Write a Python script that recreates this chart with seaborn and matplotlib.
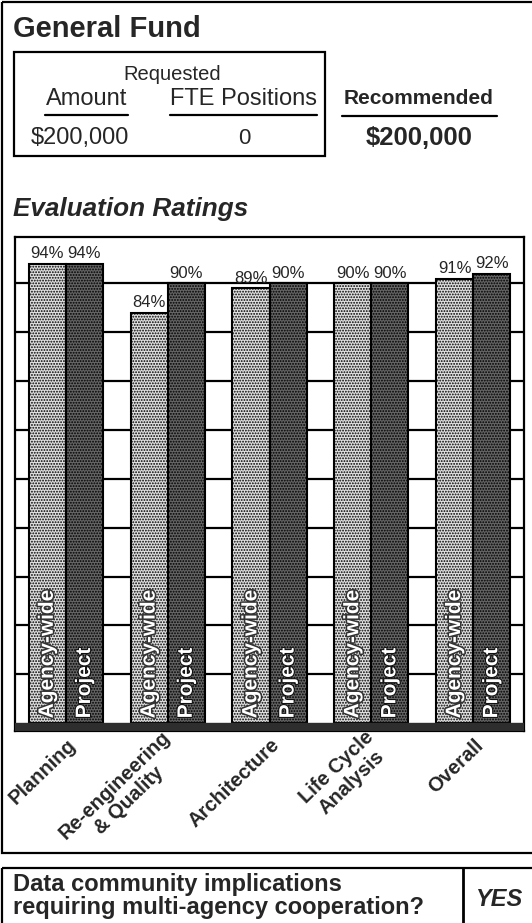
import matplotlib
matplotlib.use("Agg")
import matplotlib.pyplot as plt
import matplotlib.patheffects as pe
from matplotlib.patches import Rectangle
from matplotlib.lines import Line2D
from matplotlib.transforms import ScaledTranslation
import pandas as pd
import seaborn as sns

# ---- data -------------------------------------------------------------
categories = ["Planning", "Re-engineering\n& Quality", "Architecture",
              "Life Cycle\nAnalysis", "Overall"]
series_names = ["Agency-wide", "Project"]
agency_wide = [94, 84, 89, 90, 91]
project = [94, 90, 90, 90, 92]
grid_levels = [10, 20, 30, 40, 50, 60, 70, 80, 90]

requested_amount = "$200,000"
requested_fte = "0"
recommended_amount = "$200,000"
cooperation_answer = "YES"

df = pd.DataFrame({
    "Category": categories * 2,
    "Rating": agency_wide + project,
    "Series": [series_names[0]] * len(categories) + [series_names[1]] * len(categories),
})

# ---- style ------------------------------------------------------------
sns.set_style("white")
plt.rcParams["font.family"] = ["Liberation Sans", "DejaVu Sans"]
plt.rcParams["hatch.linewidth"] = 0.9

W, H = 532, 923
fig = plt.figure(figsize=(W / 100, H / 100), dpi=100)

# page layer in pixel units (y downwards) for the frames and header text
page = fig.add_axes([0, 0, 1, 1])
page.set_xlim(0, W)
page.set_ylim(H, 0)
page.axis("off")

def box(x0, y0, x1, y1, lw=1.6):
    page.add_patch(Rectangle((x0, y0), x1 - x0, y1 - y0, fill=False,
                             edgecolor="black", linewidth=lw))

def hline(x0, x1, y, lw=1.6):
    page.add_line(Line2D([x0, x1], [y, y], color="black", linewidth=lw))

# outer frame (right edge runs past the page)
box(2, 2, W + 10, 853)
# question box at the bottom
box(2, 868, W + 10, H + 10)
page.add_line(Line2D([463, 463], [868, H + 10], color="black", linewidth=2))

page.text(13, 29, "General Fund", fontsize=21, fontweight="bold",
          ha="left", va="center")

box(14, 52, 325, 156)
page.text(172, 74, "Requested", fontsize=14.5, ha="center", va="center")
page.text(87, 99, "Amount", fontsize=17, ha="center", va="center")
page.text(243, 99, "FTE Positions", fontsize=17, ha="center", va="center")
hline(45, 128, 115)
hline(170, 317, 115)
page.text(80, 138, requested_amount, fontsize=17, ha="center", va="center")
page.text(244, 139, requested_fte, fontsize=16, ha="center", va="center")

page.text(419, 99, "Recommended", fontsize=15, fontweight="bold",
          ha="center", va="center")
hline(342, 497, 116)
page.text(419, 138, recommended_amount, fontsize=18.5, fontweight="bold",
          ha="center", va="center")

page.text(13, 209, "Evaluation Ratings", fontsize=18.8, fontweight="bold",
          fontstyle="italic", ha="left", va="center")

page.text(13, 896, "Data community implications\nrequiring multi-agency cooperation?",
          fontsize=17, fontweight="bold", ha="left", va="center", linespacing=0.98)
page.text(499, 899, cooperation_answer, fontsize=17, fontweight="bold",
          fontstyle="italic", ha="center", va="center")

# ---- bar chart ----------------------------------------------------------
ax_left, ax_right, ax_top, ax_bottom = 15, 524, 237, 731
ax = fig.add_axes([ax_left / W, (H - ax_bottom) / H,
                   (ax_right - ax_left) / W, (ax_bottom - ax_top) / H])
ax.set_facecolor("white")

palette = {series_names[0]: "#e0e0e0", series_names[1]: "#656565"}
sns.barplot(data=df, x="Category", y="Rating", hue="Series",
            order=categories, hue_order=series_names, palette=palette,
            width=0.73, saturation=1, edgecolor="black", linewidth=1.5,
            legend=False, errorbar=None, ax=ax, zorder=3)

for container, hatch in zip(ax.containers, ["......", "......"]):
    for bar in container:
        bar.set_hatch(hatch)

for lvl in grid_levels:
    ax.axhline(lvl, color="black", linewidth=1.6, zorder=1)

ax.set_ylim(-1.6, 99.5)
ax.set_xlim(-0.5, len(categories) - 0.5)
ax.axhspan(-1.6, 0, color="#2e2e2e", zorder=4)

for spine in ax.spines.values():
    spine.set_visible(True)
    spine.set_color("black")
    spine.set_linewidth(1.6)

# value labels over the bars
for container in ax.containers:
    ax.bar_label(container, fmt="%d%%", padding=2, fontsize=12, zorder=6)

# series names written up the inside of each bar
text_styles = [
    dict(color="white", path_effects=[pe.withStroke(linewidth=2.2, foreground="#333333")]),
    dict(color="white", path_effects=[pe.withStroke(linewidth=1.5, foreground="#111111")]),
]
for container, name, style in zip(ax.containers, series_names, text_styles):
    for bar in container:
        ax.text(bar.get_x() + bar.get_width() / 2, 1.0, name, rotation=90,
                ha="center", va="bottom", fontsize=15, fontweight="bold",
                zorder=5, **style)

ax.set_yticks([])
ax.set_xlabel("")
ax.set_ylabel("")
ax.set_xticks(range(len(categories)))
ax.set_xticklabels(categories, rotation=44, ha="right", va="center",
                   rotation_mode="anchor", fontsize=14.5, fontweight="bold",
                   multialignment="center", linespacing=1.15)
ax.tick_params(axis="x", length=0, pad=8)
shift = ScaledTranslation(7 / 100, 0, fig.dpi_scale_trans)
for lbl in ax.get_xticklabels():
    lbl.set_transform(lbl.get_transform() + shift)

fig.savefig("out.png", dpi=100)
